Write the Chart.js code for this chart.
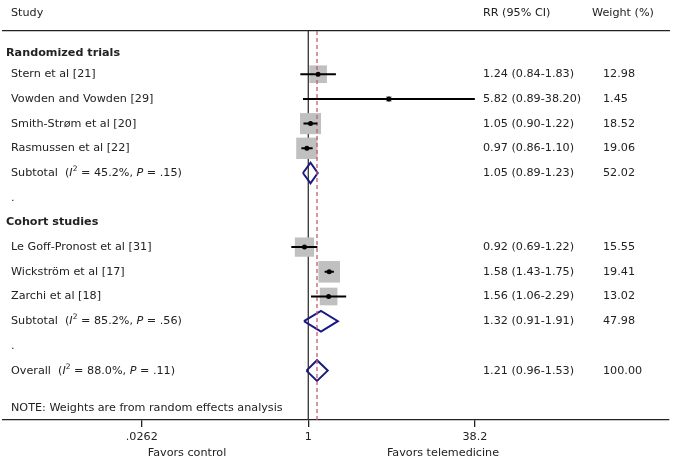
<!DOCTYPE html>
<html lang="en">
<head>
<meta charset="UTF-8">
<title>Forest plot</title>
<script src="https://cdn.jsdelivr.net/npm/chart.js"></script>
<style>
  html, body { margin: 0; padding: 0; background: #fff; }
  .chart-box { width: 678px; height: 469px; position: relative; }
</style>
</head>
<body>
<div class="chart-box">
  <canvas id="forest"></canvas>
</div>
<script>
// studies
const groupNames = ['Randomized trials', 'Cohort studies'];
const groupRows = [-0.84, 6];
const studyLabels = ['Stern et al [21]', 'Vowden and Vowden [29]', 'Smith-Strøm et al [20]', 'Rasmussen et al [22]',
                     'Le Goff-Pronost et al [31]', 'Wickström et al [17]', 'Zarchi et al [18]'];
const studyRows = [0, 1, 2, 3, 7, 8, 9];
const studyRR = [1.24, 5.82, 1.05, 0.97, 0.92, 1.58, 1.56];
const studyLo = [0.84, 0.89, 0.90, 0.86, 0.69, 1.43, 1.06];
const studyHi = [1.83, 38.20, 1.22, 1.10, 1.22, 1.75, 2.29];
const studyWeight = [12.98, 1.45, 18.52, 19.06, 15.55, 19.41, 13.02];

// pooled estimates
const poolLabels = ['Subtotal', 'Subtotal', 'Overall'];
const poolRows = [4, 10, 12];
const poolI2 = ['45.2%', '85.2%', '88.0%'];
const poolP = ['.15', '.56', '.11'];
const poolRR = [1.05, 1.32, 1.21];
const poolLo = [0.89, 0.91, 0.96];
const poolHi = [1.23, 1.91, 1.53];
const poolWeight = [52.02, 47.98, 100.00];
const dotRows = [5, 11];

const xTickValues = [0.0262, 1, 38.2];
const xTickLabels = ['.0262', '1', '38.2'];
const overallRR = 1.21;

const FONT = '"DejaVu Sans", Verdana, sans-serif';
const INK = '#222';
const fmt = v => v.toFixed(2);

// CI segments, split by null points
const ciData = [];
studyRows.forEach((r, i) => {
  ciData.push({ x: studyLo[i], y: r }, { x: studyHi[i], y: r }, { x: null, y: null });
});

// diamonds for pooled rows
const dh = 0.42;
const diamondData = [];
poolRows.forEach((r, i) => {
  diamondData.push(
    { x: poolLo[i], y: r }, { x: poolRR[i], y: r - dh }, { x: poolHi[i], y: r },
    { x: poolRR[i], y: r + dh }, { x: poolLo[i], y: r }, { x: null, y: null });
});

const yMin = -1.75, yMax = 14;

// text drawing (labels, columns, footers)
const textPlugin = {
  id: 'forestText',
  afterDraw(chart) {
    const c = chart.ctx;
    const ys = chart.scales.y;
    const py = r => ys.getPixelForValue(r);
    c.save();
    c.fillStyle = INK;
    c.textBaseline = 'middle';
    c.textAlign = 'left';

    const runs = (parts, x, y) => {
      parts.forEach(p => {
        c.font = p.f;
        const yy = p.sup ? y - 4 : y;
        c.fillText(p.t, x, yy);
        x += c.measureText(p.t).width;
      });
    };
    const norm = '11.2px ' + FONT, ital = 'italic 11.2px ' + FONT, small = '7.5px ' + FONT;

    // header row
    c.font = norm;
    const hy = py(-2.48);
    c.fillText('Study', 11, hy);
    c.fillText('RR (95% CI)', 483, hy);
    c.fillText('Weight (%)', 592, hy);

    // group headings
    c.font = 'bold 11.2px ' + FONT;
    groupNames.forEach((g, i) => c.fillText(g, 6, py(groupRows[i])));

    // studies
    c.font = norm;
    studyLabels.forEach((s, i) => {
      const y = py(studyRows[i]);
      c.fillText(s, 11, y);
      c.fillText(fmt(studyRR[i]) + ' (' + fmt(studyLo[i]) + '-' + fmt(studyHi[i]) + ')', 483, y);
      c.fillText(fmt(studyWeight[i]), 603, y);
    });

    // pooled
    poolLabels.forEach((s, i) => {
      const y = py(poolRows[i]);
      runs([
        { t: s + '  (', f: norm },
        { t: 'I', f: ital },
        { t: '2', f: small, sup: true },
        { t: ' = ' + poolI2[i] + ', ', f: norm },
        { t: 'P', f: ital },
        { t: ' = ' + poolP[i] + ')', f: norm }
      ], 11, y);
      c.font = norm;
      c.fillText(fmt(poolRR[i]) + ' (' + fmt(poolLo[i]) + '-' + fmt(poolHi[i]) + ')', 483, y);
      c.fillText(fmt(poolWeight[i]), 603, y);
    });

    dotRows.forEach(r => c.fillText('.', 11, py(r)));

    c.fillText('NOTE: Weights are from random effects analysis', 11, py(13.52));

    // direction labels under axis
    c.textAlign = 'center';
    c.fillText('Favors control', 187, 453);
    c.fillText('Favors telemedicine', 443, 453);
    c.restore();
  }
};

const noPad = s => { s.paddingLeft = 0; s.paddingRight = 0; };

new Chart(document.getElementById('forest'), {
  type: 'scatter',
  data: {
    datasets: [
      {
        label: 'point',
        data: studyRows.map((r, i) => ({ x: studyRR[i], y: r })),
        pointStyle: 'circle',
        pointRadius: 2.5,
        backgroundColor: '#000',
        borderWidth: 0,
        order: 0
      },
      {
        type: 'line',
        label: 'ci',
        data: ciData,
        borderColor: '#000',
        borderWidth: 2,
        pointRadius: 0,
        spanGaps: false,
        order: 1
      },
      {
        type: 'line',
        label: 'overall',
        data: [{ x: overallRR, y: yMin }, { x: overallRR, y: yMax }],
        borderColor: '#c85a6c',
        borderWidth: 1.3,
        borderDash: [4, 3],
        pointRadius: 0,
        order: 2
      },
      {
        type: 'line',
        label: 'pooled',
        data: diamondData,
        borderColor: '#1a1a80',
        borderWidth: 2,
        pointRadius: 0,
        spanGaps: false,
        order: 3
      },
      {
        label: 'box',
        data: studyRows.map((r, i) => ({ x: studyRR[i], y: r })),
        pointStyle: 'rect',
        pointRadius: studyWeight.map(w => 3.46 * Math.sqrt(w)),
        backgroundColor: '#c0c0c0',
        borderWidth: 0,
        order: 4
      },
      {
        type: 'line',
        label: 'null',
        data: [{ x: 1, y: yMin }, { x: 1, y: yMax }],
        borderColor: '#333',
        borderWidth: 1.3,
        pointRadius: 0,
        order: 5
      }
    ]
  },
  options: {
    responsive: true,
    maintainAspectRatio: false,
    animation: false,
    layout: { autoPadding: false, padding: { left: 3, right: 9, top: 31, bottom: 0 } },
    plugins: { legend: { display: false }, tooltip: { enabled: false } },
    scales: {
      x: {
        type: 'logarithmic',
        min: 0.00126,
        max: 2667,
        afterBuildTicks: s => { s.ticks = xTickValues.map(v => ({ value: v })); },
        afterFit: s => { s.height = 49; noPad(s); },
        ticks: {
          callback: (v, i) => xTickLabels[i],
          autoSkip: false,
          maxRotation: 0,
          padding: 3,
          color: INK,
          font: { family: FONT, size: 11.2 }
        },
        grid: { display: true, drawOnChartArea: false, drawTicks: true, tickLength: 7, color: '#222', lineWidth: 1.3 },
        border: { display: true, color: '#222', width: 1.3 }
      },
      x2: {
        type: 'linear',
        position: 'top',
        min: 0,
        max: 1,
        afterFit: s => { s.height = 0; noPad(s); },
        ticks: { display: false },
        grid: { display: false, drawTicks: false },
        border: { display: true, color: '#222', width: 1.3 }
      },
      y: {
        type: 'linear',
        display: false,
        reverse: true,
        min: yMin,
        max: yMax
      }
    }
  },
  plugins: [textPlugin]
});
</script>
</body>
</html>
